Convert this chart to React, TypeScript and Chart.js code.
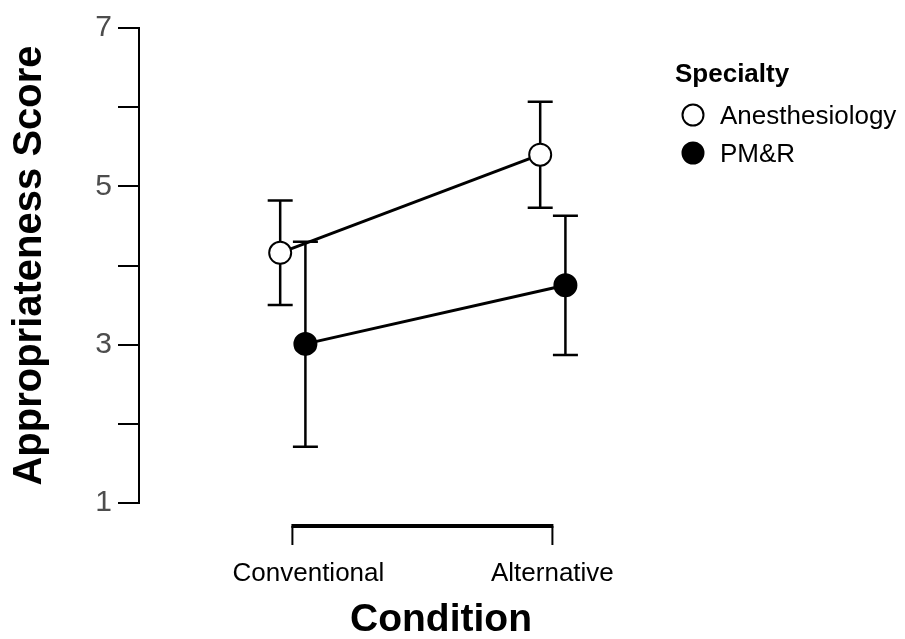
import React, { useEffect, useRef } from 'react';
import { Chart, registerables } from 'chart.js';

Chart.register(...registerables);

// ---- data ----
const conditions = ['Conventional', 'Alternative'];
const specialties = ['Anesthesiology', 'PM&R'];
const anesMean = [4.16, 5.4];
const anesLower = [3.5, 4.73];
const anesUpper = [4.82, 6.07];
const pmrMean = [3.01, 3.75];
const pmrLower = [1.71, 2.87];
const pmrUpper = [4.3, 4.63];
const yLabeledTicks = [1, 3, 5, 7];
const yTitle = 'Appropriateness Score';
const xTitle = 'Condition';
const legendTitle = 'Specialty';

const FONT = '"Liberation Sans", Arial, Helvetica, sans-serif';

export default function App() {
  const ref = useRef<HTMLCanvasElement | null>(null);

  useEffect(() => {
    document.body.style.margin = '0';
    const canvas = ref.current;
    if (!canvas) return;

    const dodge = [-0.047, 0.05];
    const fills = ['#ffffff', '#000000'];
    const means = [anesMean, pmrMean];
    const lowers = [anesLower, pmrLower];
    const uppers = [anesUpper, pmrUpper];

    const datasets: any[] = specialties.map((name, s) => ({
      label: name,
      data: means[s].map((m, i) => ({ x: i + 1 + dodge[s], y: m })),
      lower: lowers[s],
      upper: uppers[s],
      borderColor: '#000',
      borderWidth: 3,
      pointRadius: 11,
      pointHoverRadius: 11,
      pointBackgroundColor: fills[s],
      pointBorderColor: '#000',
      pointBorderWidth: 2,
      showLine: true,
      fill: false,
      tension: 0,
      clip: false,
    }));

    const errorBars = {
      id: 'errorBars',
      beforeDatasetsDraw(chart: any) {
        const { ctx } = chart;
        const xs = chart.scales.x;
        const ys = chart.scales.y;
        ctx.save();
        ctx.strokeStyle = '#000';
        ctx.lineWidth = 2.5;
        chart.data.datasets.forEach((ds: any) => {
          ds.data.forEach((p: any, i: number) => {
            const px = xs.getPixelForValue(p.x);
            const yl = ys.getPixelForValue(ds.lower[i]);
            const yu = ys.getPixelForValue(ds.upper[i]);
            const cap = 12.5;
            ctx.beginPath();
            ctx.moveTo(px, yl);
            ctx.lineTo(px, yu);
            ctx.moveTo(px - cap, yl);
            ctx.lineTo(px + cap, yl);
            ctx.moveTo(px - cap, yu);
            ctx.lineTo(px + cap, yu);
            ctx.stroke();
          });
        });
        ctx.restore();
      },
    };

    const decorations = {
      id: 'decorations',
      afterDraw(chart: any) {
        const { ctx, chartArea } = chart;
        const xs = chart.scales.x;
        const b = chartArea.bottom;
        ctx.save();
        // x axis (capped line)
        const x1 = xs.getPixelForValue(1);
        const x2 = xs.getPixelForValue(conditions.length);
        const axisY = b + 23;
        ctx.strokeStyle = '#000';
        ctx.lineWidth = 4;
        ctx.beginPath();
        ctx.moveTo(x1 - 1, axisY);
        ctx.lineTo(x2 + 1, axisY);
        ctx.stroke();
        ctx.lineWidth = 2;
        conditions.forEach((c, i) => {
          const px = xs.getPixelForValue(i + 1);
          ctx.beginPath();
          ctx.moveTo(px, axisY);
          ctx.lineTo(px, axisY + 19);
          ctx.stroke();
        });
        // x tick labels
        ctx.fillStyle = '#000';
        ctx.font = `26px ${FONT}`;
        ctx.textAlign = 'center';
        ctx.textBaseline = 'alphabetic';
        conditions.forEach((c, i) => {
          const px = xs.getPixelForValue(i + 1);
          const nudge = i === 0 ? 16 : 0;
          ctx.fillText(c, px + nudge, b + 78);
        });
        // x title
        ctx.font = `bold 39px ${FONT}`;
        ctx.fillText(xTitle, (chartArea.left + chartArea.right) / 2, b + 128);

        // legend
        ctx.textAlign = 'left';
        ctx.font = `bold 26px ${FONT}`;
        ctx.fillText(legendTitle, 675, 82);
        ctx.font = `26px ${FONT}`;
        specialties.forEach((name, s) => {
          const cy = 115 + s * 38;
          ctx.beginPath();
          ctx.arc(693, cy, 10.5, 0, Math.PI * 2);
          ctx.fillStyle = fills[s];
          ctx.fill();
          ctx.lineWidth = 2;
          ctx.strokeStyle = '#000';
          ctx.stroke();
          ctx.fillStyle = '#000';
          ctx.fillText(name, 720, cy + 9);
        });
        ctx.restore();
      },
    };

    const chart = new Chart(canvas, {
      type: 'line',
      data: { datasets },
      plugins: [errorBars, decorations],
      options: {
        animation: false,
        responsive: true,
        maintainAspectRatio: false,
        layout: { padding: { top: 28, right: 162, bottom: 136, left: 0 } },
        plugins: {
          legend: { display: false },
          tooltip: { enabled: false },
        },
        events: [],
        scales: {
          x: {
            type: 'linear',
            min: 0.41,
            max: 2.733,
            display: false,
          },
          y: {
            type: 'linear',
            min: 1,
            max: 7,
            afterFit: (s: any) => {
              s.width = 139;
            },
            ticks: {
              stepSize: 1,
              padding: 6,
              color: '#4d4d4d',
              font: { family: FONT, size: 30 },
              callback: (v: any) => (yLabeledTicks.includes(Number(v)) ? String(v) : ''),
            },
            grid: {
              drawOnChartArea: false,
              drawTicks: true,
              tickLength: 21,
              color: '#000',
              lineWidth: 2,
            },
            border: { display: true, color: '#000', width: 2 },
            title: {
              display: true,
              text: yTitle,
              color: '#000',
              font: { family: FONT, size: 40, weight: 'bold' },
              padding: { top: 6, bottom: 0 },
            },
          },
        },
      } as any,
    });

    return () => chart.destroy();
  }, []);

  return (
    <div style={{ position: 'relative', width: 905, height: 639 }}>
      <canvas ref={ref} />
    </div>
  );
}
